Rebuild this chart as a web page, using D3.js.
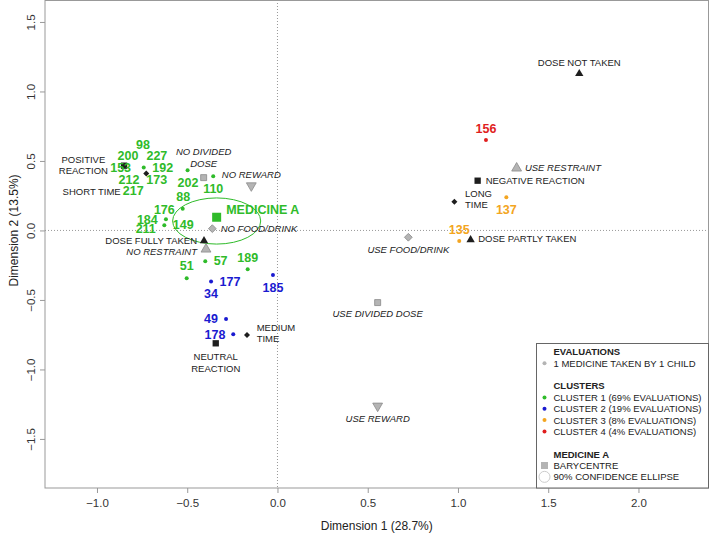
<!DOCTYPE html>
<html>
<head>
<meta charset="utf-8">
<script src="https://cdn.jsdelivr.net/npm/d3@7"></script>
<style>
body { margin: 0; background: #fff; }
svg { display: block; font-family: "Liberation Sans", Arial, sans-serif; }
</style>
</head>
<body>
<svg id="chart"></svg>
<script>
// axis ranges and ticks
var xLim = [-1.288, 2.388];
var yLim = [-1.853, 1.658];
var xTicks = [-1.0, -0.5, 0.0, 0.5, 1.0, 1.5, 2.0];
var yTicks = [-1.5, -1.0, -0.5, 0.0, 0.5, 1.0, 1.5];
var xTitle = "Dimension 1 (28.7%)";
var yTitle = "Dimension 2 (13.5%)";

// clusters
var clusters = ["CLUSTER 1", "CLUSTER 2", "CLUSTER 3", "CLUSTER 4"];
var clusterShare = [69, 19, 8, 4];

// evaluation points [x, y, cluster index]
var evalDots = [
  [-0.741, 0.452, 0], [-0.498, 0.433, 0], [-0.356, 0.390, 0],
  [-0.525, 0.157, 0], [-0.618, 0.081, 0], [-0.627, 0.037, 0],
  [-0.400, -0.222, 0], [-0.165, -0.279, 0], [-0.503, -0.344, 0],
  [-0.368, -0.368, 1], [-0.025, -0.320, 1], [-0.285, -0.637, 1], [-0.245, -0.747, 1],
  [1.268, 0.239, 2], [1.007, -0.076, 2],
  [1.155, 0.651, 3]
];

// evaluation labels [text, x, y, cluster index] (repelled positions)
var evalLabels = [
  ["98", -0.745, 0.615, 0], ["200", -0.828, 0.538, 0], ["227", -0.668, 0.538, 0],
  ["153", -0.869, 0.455, 0], ["192", -0.636, 0.455, 0], ["212", -0.823, 0.363, 0],
  ["173", -0.669, 0.363, 0], ["202", -0.496, 0.344, 0], ["110", -0.356, 0.304, 0],
  ["217", -0.799, 0.286, 0], ["88", -0.522, 0.243, 0], ["176", -0.627, 0.153, 0],
  ["184", -0.721, 0.076, 0], ["211", -0.730, 0.011, 0], ["149", -0.522, 0.040, 0],
  ["51", -0.503, -0.255, 0], ["57", -0.315, -0.217, 0], ["189", -0.165, -0.193, 0],
  ["177", -0.263, -0.365, 1], ["34", -0.368, -0.452, 1], ["185", -0.025, -0.409, 1],
  ["49", -0.368, -0.637, 1], ["178", -0.346, -0.747, 1],
  ["137", 1.268, 0.153, 2], ["135", 1.007, 0.004, 2],
  ["156", 1.155, 0.730, 3]
];

// variable categories: outcome ones in black, strategy ones in grey
var categories = [
  {name: "DOSE NOT TAKEN", x: 1.672, y: 1.135, shape: "triUp", kind: "outcome"},
  {name: "DOSE FULLY TAKEN", x: -0.407, y: -0.068, shape: "triUp", kind: "outcome"},
  {name: "DOSE PARTLY TAKEN", x: 1.070, y: -0.061, shape: "triUp", kind: "outcome"},
  {name: "POSITIVE REACTION", x: -0.850, y: 0.466, shape: "square", kind: "outcome"},
  {name: "NEGATIVE REACTION", x: 1.109, y: 0.358, shape: "square", kind: "outcome"},
  {name: "NEUTRAL REACTION", x: -0.342, y: -0.812, shape: "square", kind: "outcome"},
  {name: "SHORT TIME", x: -0.727, y: 0.409, shape: "diamond", kind: "outcome"},
  {name: "LONG TIME", x: 0.980, y: 0.207, shape: "diamond", kind: "outcome"},
  {name: "MEDIUM TIME", x: -0.169, y: -0.752, shape: "diamond", kind: "outcome"},
  {name: "NO DIVIDED DOSE", x: -0.409, y: 0.380, shape: "square", kind: "strategy"},
  {name: "USE DIVIDED DOSE", x: 0.555, y: -0.519, shape: "square", kind: "strategy"},
  {name: "NO REWARD", x: -0.145, y: 0.315, shape: "triDown", kind: "strategy"},
  {name: "USE REWARD", x: 0.555, y: -1.270, shape: "triDown", kind: "strategy"},
  {name: "NO RESTRAINT", x: -0.396, y: -0.128, shape: "triUp", kind: "strategy"},
  {name: "USE RESTRAINT", x: 1.325, y: 0.455, shape: "triUp", kind: "strategy"},
  {name: "NO FOOD/DRINK", x: -0.361, y: 0.013, shape: "diamond", kind: "strategy"},
  {name: "USE FOOD/DRINK", x: 0.725, y: -0.049, shape: "diamond", kind: "strategy"}
];

// medicine A barycentre and 90% ellipse
var medName = "MEDICINE A";
var medCentre = [-0.337, 0.095];
var medEllipse = {cx: -0.337, cy: 0.068, rx: 0.244, ry: 0.166};

// ---------- drawing ----------
var WIDTH = 709, HEIGHT = 534;
var clusterColor = ["#2fbb2a", "#1a1ad0", "#f3a521", "#e01e1e"];
var greyFill = "#b4b4b4", greyStroke = "#8a8a8a";

var svg = d3.select("#chart").attr("width", WIDTH).attr("height", HEIGHT);

var x = d3.scaleLinear().domain(xLim).range([45, 708.5]);
var y = d3.scaleLinear().domain(yLim).range([488, 0]);

// zero lines
svg.append("line")
  .attr("x1", x(0)).attr("x2", x(0)).attr("y1", y(yLim[1])).attr("y2", y(yLim[0]))
  .attr("stroke", "#999").attr("stroke-dasharray", "1,2");
svg.append("line")
  .attr("x1", x(xLim[0])).attr("x2", x(xLim[1])).attr("y1", y(0)).attr("y2", y(0))
  .attr("stroke", "#999").attr("stroke-dasharray", "1,2");

// axes
var xAxis = svg.append("g").attr("transform", "translate(0,488)")
  .call(d3.axisBottom(x).tickValues(xTicks).tickSize(5).tickPadding(6).tickFormat(d3.format(".1f")));
var yAxis = svg.append("g").attr("transform", "translate(45,0)")
  .call(d3.axisLeft(y).tickValues(yTicks).tickSize(5).tickFormat(d3.format(".1f")));
[xAxis, yAxis].forEach(function(a) {
  a.select(".domain").remove();
  a.selectAll(".tick line").attr("stroke", "#999");
  a.selectAll(".tick text").attr("fill", "#333").style("font-size", "11.5px")
    .style("font-family", "'Liberation Sans', Arial, sans-serif");
});
yAxis.selectAll(".tick text")
  .attr("x", null).attr("dy", null)
  .attr("text-anchor", "middle")
  .attr("transform", "translate(-14,0) rotate(-90)")
  .attr("dy", "0.36em");

svg.append("text").attr("x", (45 + 708.5) / 2).attr("y", 530)
  .attr("text-anchor", "middle").attr("fill", "#222").style("font-size", "12px").text(xTitle);
svg.append("text").attr("transform", "translate(18," + y(0) + ") rotate(-90)")
  .attr("text-anchor", "middle").attr("fill", "#222").style("font-size", "12px").text(yTitle);

// frame
svg.append("rect").attr("x", 45).attr("y", 0.5).attr("width", 663.5).attr("height", 487.5)
  .attr("fill", "none").attr("stroke", "#999");

// ellipse
svg.append("ellipse")
  .attr("cx", x(medEllipse.cx)).attr("cy", y(medEllipse.cy))
  .attr("rx", x(medEllipse.cx + medEllipse.rx) - x(medEllipse.cx))
  .attr("ry", y(medEllipse.cy - medEllipse.ry) - y(medEllipse.cy))
  .attr("fill", "none").attr("stroke", clusterColor[0]).attr("stroke-width", 1);

// category markers
function symbolPath(shape, kind) {
  var big = kind === "strategy";
  if (shape === "triUp" || shape === "triDown") return d3.symbol(d3.symbolTriangle, big ? 42 : 30)();
  if (shape === "square") return d3.symbol(d3.symbolSquare, big ? 36 : 40)();
  return d3.symbol(d3.symbolSquare, big ? 30 : 18)();
}
function symbolRot(shape) {
  if (shape === "triDown") return 180;
  if (shape === "diamond") return 45;
  return 0;
}
svg.append("g").selectAll("path")
  .data(categories).enter().append("path")
  .attr("d", function(d) { return symbolPath(d.shape, d.kind); })
  .attr("transform", function(d) {
    var off = (d.shape === "triUp" ? 1 : d.shape === "triDown" ? -1 : 0);
    return "translate(" + x(d.x) + "," + (y(d.y) + off) + ") rotate(" + symbolRot(d.shape) + ")";
  })
  .attr("fill", function(d) { return d.kind === "strategy" ? greyFill : "#1e1e1e"; })
  .attr("stroke", function(d) { return d.kind === "strategy" ? greyStroke : "none"; })
  .attr("stroke-width", 0.8);

// category labels: offset in px, anchor, lines
var place = {
  "DOSE NOT TAKEN": {dx: 0, dy: [-10], a: "middle", lines: ["DOSE NOT TAKEN"]},
  "DOSE FULLY TAKEN": {dx: -7, dy: [1], a: "end", lines: ["DOSE FULLY TAKEN"]},
  "DOSE PARTLY TAKEN": {dx: 7.6, dy: [0], a: "start", lines: ["DOSE PARTLY TAKEN"]},
  "POSITIVE REACTION": {dx: -40.7, dy: [-6.4, 5], a: "middle", lines: ["POSITIVE", "REACTION"]},
  "NEGATIVE REACTION": {dx: 8, dy: [0], a: "start", lines: ["NEGATIVE REACTION"]},
  "NEUTRAL REACTION": {dx: 0, dy: [13.4, 25], a: "middle", lines: ["NEUTRAL", "REACTION"]},
  "SHORT TIME": {dx: -54.6, dy: [18], a: "middle", lines: ["SHORT TIME"]},
  "LONG TIME": {dx: 10.7, dy: [-8.4, 3.3], a: "start", lines: ["LONG", "TIME"]},
  "MEDIUM TIME": {dx: 9.7, dy: [-7.3, 4], a: "start", lines: ["MEDIUM", "TIME"]},
  "NO DIVIDED DOSE": {dx: 0, dy: [-26, -14.4], a: "middle", lines: ["NO DIVIDED", "DOSE"]},
  "USE DIVIDED DOSE": {dx: 0, dy: [11.3], a: "middle", lines: ["USE DIVIDED DOSE"]},
  "NO REWARD": {dx: 0, dy: [-12.4], a: "middle", lines: ["NO REWARD"]},
  "USE REWARD": {dx: 0, dy: [11.3], a: "middle", lines: ["USE REWARD"]},
  "NO RESTRAINT": {dx: -9, dy: [3.7], a: "end", lines: ["NO RESTRAINT"]},
  "USE RESTRAINT": {dx: 8.3, dy: [0], a: "start", lines: ["USE RESTRAINT"]},
  "NO FOOD/DRINK": {dx: 8.4, dy: [0], a: "start", lines: ["NO FOOD/DRINK"]},
  "USE FOOD/DRINK": {dx: 0, dy: [12], a: "middle", lines: ["USE FOOD/DRINK"]}
};
var catLab = svg.append("g").style("font-size", "9.5px");
categories.forEach(function(d) {
  var p = place[d.name];
  p.lines.forEach(function(line, i) {
    catLab.append("text")
      .attr("x", x(d.x) + p.dx).attr("y", y(d.y) + p.dy[i])
      .attr("dy", "0.36em").attr("text-anchor", p.a)
      .attr("fill", "#222")
      .style("font-style", d.kind === "strategy" ? "italic" : "normal")
      .text(line);
  });
});

// evaluation dots
svg.append("g").selectAll("circle")
  .data(evalDots).enter().append("circle")
  .attr("cx", function(d) { return x(d[0]); })
  .attr("cy", function(d) { return y(d[1]); })
  .attr("r", 2)
  .attr("fill", function(d) { return clusterColor[d[2]]; });

// evaluation labels
svg.append("g").selectAll("text")
  .data(evalLabels).enter().append("text")
  .attr("x", function(d) { return x(d[1]); })
  .attr("y", function(d) { return y(d[2]); })
  .attr("dy", "0.36em").attr("text-anchor", "middle")
  .attr("fill", function(d) { return clusterColor[d[3]]; })
  .style("font-size", "12.5px").style("font-weight", "bold")
  .text(function(d) { return d[0]; });

// barycentre
svg.append("rect")
  .attr("x", x(medCentre[0]) - 4.5).attr("y", y(medCentre[1]) - 4.5)
  .attr("width", 9).attr("height", 9).attr("fill", clusterColor[0]);
svg.append("text")
  .attr("x", x(medCentre[0]) + 9.5).attr("y", y(medCentre[1]) - 8)
  .attr("dy", "0.36em").attr("fill", clusterColor[0])
  .style("font-size", "12.5px").style("font-weight", "bold").text(medName);

// legend
var lg = svg.append("g").style("font-size", "9.5px");
lg.append("rect").attr("x", 536.5).attr("y", 343.5).attr("width", 172).attr("height", 144.5)
  .attr("fill", "#fff").attr("stroke", "#666");
var row = function(i) { return 352 + i * 11.35; };
var lx = 553.5, mx = 544.5;
function ltext(i, t, bold) {
  lg.append("text").attr("x", lx).attr("y", row(i)).attr("dy", "0.36em")
    .attr("fill", "#222").style("font-weight", bold ? "bold" : "normal").text(t);
}
ltext(0, "EVALUATIONS", true);
lg.append("circle").attr("cx", mx).attr("cy", row(1)).attr("r", 2).attr("fill", greyFill);
ltext(1, "1 MEDICINE TAKEN BY 1 CHILD", false);
ltext(3, "CLUSTERS", true);
clusters.forEach(function(c, i) {
  lg.append("circle").attr("cx", mx).attr("cy", row(4 + i)).attr("r", 2).attr("fill", clusterColor[i]);
  ltext(4 + i, c + " (" + clusterShare[i] + "% EVALUATIONS)", false);
});
ltext(9, medName, true);
lg.append("rect").attr("x", mx - 3.5).attr("y", row(10) - 3.5).attr("width", 7).attr("height", 7).attr("fill", greyFill);
ltext(10, "BARYCENTRE", false);
lg.append("circle").attr("cx", mx).attr("cy", row(11)).attr("r", 5.5).attr("fill", "none").attr("stroke", "#ccc");
ltext(11, "90% CONFIDENCE ELLIPSE", false);
</script>
</body>
</html>
